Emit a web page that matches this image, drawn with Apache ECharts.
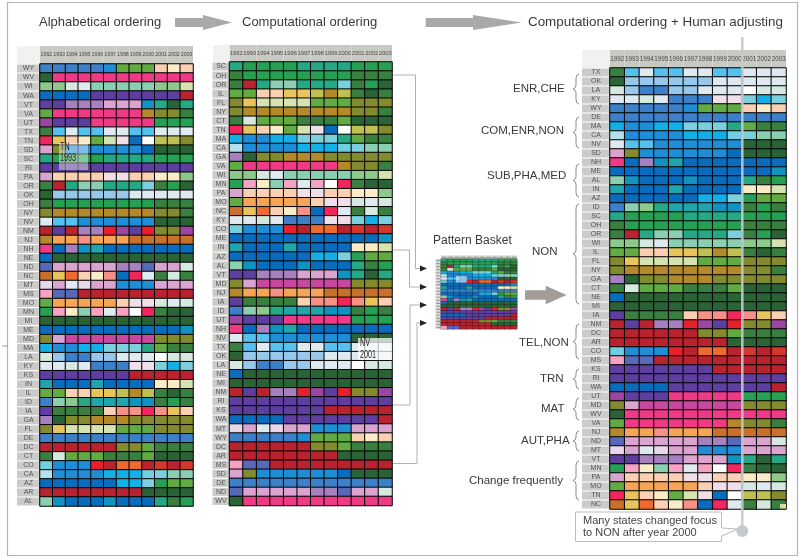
<!DOCTYPE html>
<html><head><meta charset="utf-8">
<style>html,body{margin:0;padding:0;background:#fff}#c{width:800px;height:558px}</style>
<script src="https://cdn.jsdelivr.net/npm/echarts@6/dist/echarts.min.js"></script>
</head><body><div id="c"></div>
<script>
const years = ["1992","1993","1994","1995","1996","1997","1998","1999","2000","2001","2002","2003"];
const statesAlpha = ["WY","WV","WI","WA","VT","VA","UT","TX","TN","SD","SC","RI","PA","OR","OK","OH","NY","NV","NM","NJ","NH","NE","ND","NC","MT","MS","MO","MN","MI","ME","MD","MA","LA","KY","KS","IN","IL","ID","IA","GA","FL","DE","DC","CT","CO","CA","AZ","AR","AL"];
// one code per year: the focus colour class of each state
const focusByState = ["cccccbrrrKLK","kwwwwwwwwwww","ppqgoooooppv","aaaaAAAAAAAD","AAzzzyyyinkn","rwwwwwwwtssl","CAAAwwwwwmmm","legeeggeeggg","FMKLrvNaOuus","ysbbbbbbakkk","nmmmmnnnnmmm","AAAAAAAAAAAA","yKKKKNNKKLLp","lDnoonnnhlmk","kffffffggggg","lmmmmmmmmlll","sttttttttssl","geebbbbbbkkk","DADzzECAEssC","tIIJIIIHHHHH","wazijaaaaaaa","akkkkkkkkkkk","ByyyyyzzByyq","HMGKLJaFglql","QygQyybbbyyy","RBBDDDDDDDDD","rIIIIIKNNqgq","mRLoRgROFlkk","kkkkkkkkkkkk","aaaaaaaaaaai","syxxxxxxxsss","dbbddhhhnrll","qfccffgggOqq","ggqgcccNNhdh","AAAAAAADDDDD","jaaajaaaaLLv","rrKKMMutulkl","copnjjjiilml","AllllKJJFJMK","zksstttsssss","sMvvvvrrrsss","cccccccccccc","DDDDDDssrlll","lqrrrlllrkkk","SbbbEDGGDPDP","TbbbbdddShoo","aaaaaaddhmrr","DDDDDDDDkkkk","oiaaaiaaanlm"];
const statesComputed = ["SC","OH","OR","IL","FL","NY","CT","TN","MA","CA","GA","VA","WI","MN","PA","MO","NC","KY","CO","ME","IN","AZ","AL","VT","MD","NJ","IA","ID","UT","NH","NV","TX","OK","LA","NE","MI","NM","RI","KS","WA","MT","WY","DC","AR","MS","SD","DE","ND","WV"];
const statesAdjusted = ["TX","OK","LA","KY","WY","DE","MA","CA","NV","SD","NH","ME","AL","IN","AZ","ID","SC","OH","OR","WI","IL","FL","NY","GA","CT","NE","MI","IA","NM","DC","AR","CO","MS","KS","RI","WA","UT","MD","WV","VA","NJ","ND","MT","VT","MN","PA","MO","TN","NC"];
const statesBasket = ["SC","OH","OR","CT","MA","CA","NV","CO","ME","IN","DE","AZ","AL","NH","NE","MI","NM","RI","WA","KS","DC","AR","MS"];
const groupLabels = ["ENR,CHE","COM,ENR,NON","SUB,PHA,MED","NON","TEL,NON","TRN","MAT","AUT,PHA","Change frequently"];
const paletteCodes = "abcdefghijklmnopqrstuvwxyzABCDEFGHIJKLMNOPQRST";
const paletteColors = ["#0a6cbc","#1f8ed6","#3b80c9","#12b0e6","#55c1ef","#97c8ec","#dfe9f0","#7ccfdc","#1093c0","#20a5ad","#2a6436","#387f40","#26a052","#25a985","#8acfb2","#8cc98a","#d6e9e0","#62ab42","#838b2e","#b3892a","#bfc052","#d6e3b0","#ef3a86","#c8479f","#dba3cf","#a780c0","#5e3e9e","#5a68b8","#9c46a3","#b8232f","#e8202c","#f2265c","#ef6a30","#c9702a","#f6a557","#f79188","#fbcfb2","#fbecc8","#e8c45c","#f0dfe8","#ffffff","#d3382a","#e8d8ea","#f6a3c3","#72cfe0","#b4e0ee"];

const rowOf = {};
statesAlpha.forEach((s,i)=>rowOf[s]=focusByState[i]);
const chart = echarts.init(document.getElementById('c'),null,{renderer:'canvas'});
const ff = '"Liberation Sans",Arial,sans-serif';
const sf = '"Liberation Sans",Arial,sans-serif';
const grids=[],xAxes=[],yAxes=[],series=[];
function panel(order,r){
  const i=grids.length,cw=r.w/12,ch=r.h/order.length;
  grids.push({left:r.x,top:r.y,width:r.w,height:r.h,containLabel:false});
  xAxes.push({type:'category',gridIndex:i,data:years,position:'top',axisLine:{show:false},axisTick:{show:false},splitLine:{show:false},
    axisLabel:{interval:0,margin:0,formatter:'{a|{value}}',rich:{a:{width:cw,height:r.hh,lineHeight:r.hh,align:'center',backgroundColor:'#c9c9c3',color:'#4a4a4a',fontSize:r.fs,fontFamily:ff}}}});
  yAxes.push({type:'category',gridIndex:i,data:order,inverse:true,axisLine:{show:false},axisTick:{show:false},splitLine:{show:false},
    axisLabel:{interval:0,margin:0,formatter:'{a|{value}}',rich:{a:{width:r.lw,height:ch-r.gap,lineHeight:ch-r.gap,align:'center',backgroundColor:'#cbcbc9',color:'#555',fontSize:r.yfs,fontFamily:ff}}}});
  const data=[];
  order.forEach((s,y)=>{[...rowOf[s]].forEach((c,x)=>{const k=paletteCodes.indexOf(c);
    data.push({value:[x,y,k],itemStyle:{color:paletteColors[k]}});});});
  series.push({type:'heatmap',xAxisIndex:i,yAxisIndex:i,data,progressive:0,animation:false,
    itemStyle:{borderColor:'#000',borderWidth:r.bw},emphasis:{disabled:true},label:{show:false}});
}
panel(statesAlpha,{x:40,y:64,w:153,h:442,lw:23,hh:18,fs:5.4,yfs:7,gap:1,bw:1});
panel(statesComputed,{x:229.5,y:62,w:162.5,h:443.5,lw:17,hh:17,fs:5.8,yfs:7,gap:1,bw:1});
panel(statesAdjusted,{x:610,y:68,w:176,h:441,lw:28,hh:18,fs:6.3,yfs:7,gap:1,bw:1});
panel(statesBasket,{x:441,y:259,w:76,h:70,lw:5.5,hh:3.5,fs:1.8,yfs:2.2,gap:0.3,bw:0.25});

const g=[];
const text=(t,x,y,fs,extra,attr)=>g.push(Object.assign({type:'text',z:100,style:Object.assign({text:t,x,y,fontSize:fs,fontFamily:sf,fill:'#3a3a3a',verticalAlign:'middle',align:'left'},extra||{})},attr||{}));
const poly=(pts,fill,z)=>g.push({type:'polygon',z:z||50,shape:{points:pts},style:{fill}});
const pline=(pts,stroke,w,z)=>g.push({type:'polyline',z:z||40,shape:{points:pts},style:{fill:null,stroke,lineWidth:w}});
// frame
g.push({type:'rect',z:1,shape:{x:7.5,y:2.5,width:790,height:553},style:{fill:'none',stroke:'#b4b4b4',lineWidth:1.2}});
g.push({type:'line',z:1,shape:{x1:2,y1:346,x2:8,y2:346},style:{stroke:'#999',lineWidth:1}});
// corners
[[17,46,23,18],[213,45,16.5,17],[582,50,28,18]].forEach(a=>g.push({type:'rect',z:1,shape:{x:a[0],y:a[1],width:a[2],height:a[3]},style:{fill:'#f1f1f1'}}));
// titles
text("Alphabetical ordering",39,22,13);
text("Computational ordering",242,22,13);
text("Computational ordering + Human adjusting",528,22,13.4);
text("Pattern Basket",433,241,12);
// big arrows
const blk=(x0,xh,x1,cy,bh,hh,c)=>poly([[x0,cy-bh],[xh,cy-bh],[xh,cy-hh],[x1,cy],[xh,cy+hh],[xh,cy+bh],[x0,cy+bh]],c);
blk(175,203,232,22.5,4.5,7.5,'#a9a9a9');
blk(425.7,473,521.7,22.5,4.5,7.5,'#a9a9a9');
blk(525,545.7,566.7,295,4.7,9.3,'#a39d97');
// connectors
pline([[393,75],[415.5,75],[415.5,268.5],[420,268.5]],'#b0b0b0',1);
pline([[393,250],[409.5,250],[409.5,287],[420,287]],'#b0b0b0',1);
pline([[393,405],[410,405],[410,305],[420,305]],'#b0b0b0',1);
pline([[393,463.5],[417,463.5],[417,323],[420,323]],'#b0b0b0',1);
[268.5,287,305,323].forEach(y=>poly([[420,y-3],[427,y],[420,y+3]],'#222'));
// group labels
const labs=[[513,89],[481,131],[487,176],[532,252],[519,343],[540,379],[541,409],[521,441],[469,481]];
groupLabels.forEach((t,i)=>text(t,labs[i][0],labs[i][1],11.5));
// braces
[[74,104],[117,148],[164,197],[204,304],[324,359],[369,389],[398,420],[431,451],[461,500]].forEach(b=>{
  const m=(b[0]+b[1])/2;
  pline([[579,b[0]],[577,b[0]+1],[576,b[0]+4],[576,m-4],[575.5,m-1.5],[573,m],[575.5,m+1.5],[576,m+4],[576,b[1]-4],[577,b[1]-1],[579,b[1]]],'#8c8c8c',1);
});
// overlays
const squeezed=x=>({scaleX:0.72,originX:x});
g.push({type:'rect',z:90,shape:{x:59,y:143,width:29,height:27},style:{fill:'rgba(255,255,255,0.42)'}});
text("TN",60,147.5,10,{fill:'#222'},squeezed(60));
text("1993",60,158,10,{fill:'#222'},squeezed(60));
g.push({type:'rect',z:90,shape:{x:358,y:338,width:34,height:22},style:{fill:'rgba(255,255,255,0.72)'}});
text("NV",360,343.5,10,{fill:'#222'},squeezed(360));
text("2001",360,355,10,{fill:'#222'},squeezed(360));
g.push({type:'rect',z:90,shape:{x:456,y:276,width:11,height:6.5},style:{fill:'rgba(255,255,255,0.5)'}});
g.push({type:'rect',z:90,shape:{x:780,y:504,width:6,height:4.5},style:{fill:'#d8dca0'}});
// vertical guide + callout
g.push({type:'line',z:92,shape:{x1:742.3,y1:37,x2:742.3,y2:531},style:{stroke:'#c6cacd',lineWidth:2.6,opacity:0.9}});
g.push({type:'polygon',z:93,shape:{points:[[575.5,512],[721.5,512],[721.5,528],[738,529],[721.5,536],[721.5,541.5],[575.5,541.5]]},style:{fill:'#fff',stroke:'#bdbdbd',lineWidth:1}});
g.push({type:'circle',z:94,shape:{cx:742.3,cy:531,r:6},style:{fill:'#c6cacd'}});
text("Many states changed focus",583,520.5,11,{fill:'#444'});
text("to NON after year 2000",583,533,11,{fill:'#444'});

chart.setOption({animation:false,backgroundColor:'#fff',tooltip:{show:false},grid:grids,xAxis:xAxes,yAxis:yAxes,series,graphic:{elements:g}});
</script></body></html>
